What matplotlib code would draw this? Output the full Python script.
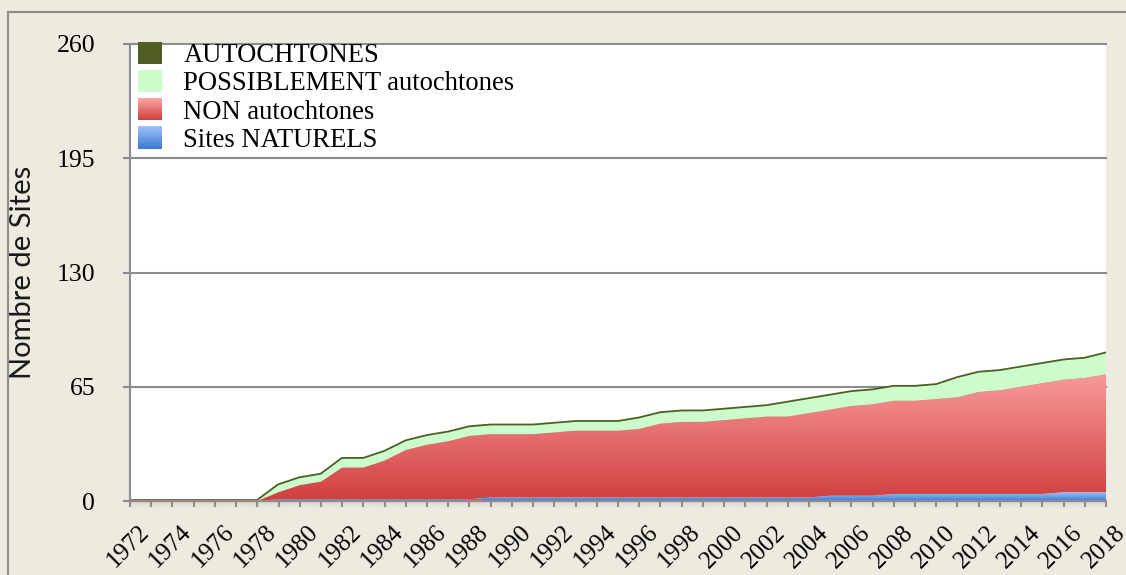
import numpy as np
import matplotlib
matplotlib.use("Agg")
import matplotlib.pyplot as plt
from matplotlib.colors import LinearSegmentedColormap, to_rgb
from matplotlib.patches import Rectangle
from matplotlib.legend_handler import HandlerBase
from matplotlib.transforms import ScaledTranslation

# ---- data -------------------------------------------------------------
years = list(range(1972, 2019))

sites_naturels = [0, 0, 0, 0, 0, 0, 0,
                  1, 1, 1, 1, 1, 1, 1, 1, 1, 1,
                  2, 2, 2, 2, 2, 2, 2, 2, 2, 2, 2, 2, 2, 2, 2, 2,
                  3, 3, 3,
                  4, 4, 4, 4, 4, 4, 4, 4,
                  5, 5, 5]

non_autochtones = [0, 0, 0, 0, 0, 0, 0,
                   4, 8, 10, 18, 18, 22, 28, 31, 33, 36,
                   36, 36, 36, 37, 38, 38, 38, 39, 42, 43, 43, 44, 45, 46, 46, 48,
                   49, 51, 52,
                   53, 53, 54, 55, 58, 59, 61, 63,
                   64, 65, 67]

possiblement = [0, 0, 0, 0, 0, 0, 0,
                4, 4, 4, 5, 5, 5, 5, 5, 5, 5,
                5, 5, 5, 5, 5, 5, 5, 6, 6, 6, 6, 6, 6, 6, 8, 8,
                8, 8, 8,
                8, 8, 8, 11, 11, 11, 11, 11,
                11, 11, 12]

autochtones = [0] * len(years)

series_labels = ["AUTOCHTONES", "POSSIBLEMENT autochtones",
                 "NON autochtones", "Sites NATURELS"]
y_ticks = [0, 65, 130, 195, 260]

# ---- style ------------------------------------------------------------
BG = "#edeae0"
GRID = "#8c8c8c"
OLIVE = "#4e5e25"
GREEN = "#ccfccc"
RED_LO, RED_HI = "#d03f3f", "#f89a9a"
BLUE_LO, BLUE_HI = "#3f7bd6", "#9cc1f7"

plt.rcParams["font.family"] = ["Liberation Serif", "DejaVu Serif"]

W, H = 1126, 575
fig = plt.figure(figsize=(W / 100, H / 100), dpi=100, facecolor=BG)
ax = fig.add_axes([130 / W, 74 / H, 976 / W, 457 / H])
ax.set_facecolor("white")

x = np.array(years, dtype=float)
b0 = np.array(sites_naturels, dtype=float)
b1 = b0 + np.array(non_autochtones)
b2 = b1 + np.array(possiblement)
b3 = b2 + np.array(autochtones)


def gradient_area(lo, hi, c_lo, c_hi, z):
    """Fill between lo and hi with a vertical colour gradient."""
    poly = ax.fill_between(x, lo, hi, facecolor="none", edgecolor="none", zorder=z)
    top = float(np.max(hi)) if np.max(hi) > 0 else 1.0
    cmap = LinearSegmentedColormap.from_list("grad", [c_lo, c_hi])
    grad = np.linspace(0, 1, 256).reshape(-1, 1)
    im = ax.imshow(grad, cmap=cmap, aspect="auto", origin="lower",
                   extent=[x[0], x[-1], 0, top], zorder=z,
                   interpolation="bilinear")
    im.set_clip_path(poly.get_paths()[0], ax.transData)
    return im


# outlines first, so the fills cover their inner half
ax.plot(x, b3, color=OLIVE, lw=2.6, zorder=1.0, solid_joinstyle="round")
ax.plot(x, b1, color="#c9504a", lw=2.0, zorder=1.1)

gradient_area(np.zeros_like(b0), b0, BLUE_LO, BLUE_HI, 2.0)
gradient_area(b0, b1, RED_LO, RED_HI, 2.1)
ax.fill_between(x, b1, b2, facecolor=GREEN, edgecolor="none", zorder=2.2)
ax.fill_between(x, b2, b3, facecolor=OLIVE, edgecolor="none", zorder=2.3)

# soft shadow just under the baseline
shade = np.zeros((32, 1, 4))
shade[..., :3] = 0.35
shade[:, 0, 3] = np.linspace(0.0, 0.28, 32) ** 1.5
ax.imshow(shade, aspect="auto", origin="lower", extent=[x[0], x[-1], -5.0, 0],
          zorder=0.3, clip_on=False, interpolation="bilinear")

ax.set_xlim(1972, 2018)
ax.set_ylim(0, 260)

# ---- axes, ticks, grid ------------------------------------------------
for side in ("top", "right"):
    ax.spines[side].set_visible(False)
for side in ("left", "bottom"):
    ax.spines[side].set_color(GRID)
    ax.spines[side].set_linewidth(1.5)
    ax.spines[side].set_zorder(3)

ax.set_yticks(y_ticks)
ax.set_yticklabels([str(v) for v in y_ticks])
ax.yaxis.grid(True, color=GRID, lw=1.5)
for gl in ax.get_ygridlines():
    gl.set_clip_on(False)
ax.set_axisbelow(True)
ax.tick_params(axis="y", direction="out", length=5, width=1.5, color=GRID,
               pad=20, labelsize=18.5)

ax.set_xticks(list(range(1972, 2019, 2)))
ax.set_xticklabels([str(v) for v in range(1972, 2019, 2)])
ax.set_xticks(list(range(1973, 2019, 2)), minor=True)
ax.tick_params(axis="x", which="both", direction="out", length=4.5, width=1.5,
               color=GRID)
ax.tick_params(axis="x", which="major", labelsize=18, pad=10)
shift = ScaledTranslation(-2 / 100, 0, fig.dpi_scale_trans)
for lab in ax.get_xticklabels():
    lab.set_rotation(45)
    lab.set_ha("center")
    lab.set_va("top")
    lab.set_transform(lab.get_transform() + shift)

ax.set_ylabel("Nombre de Sites", fontfamily=["Lato", "DejaVu Sans"],
              fontsize=21, color="#1a1a1a", va="center")
ax.yaxis.set_label_coords((23 - 130) / 976, 0.5)


# ---- legend -----------------------------------------------------------
class GradientHandler(HandlerBase):
    def __init__(self, c_lo, c_hi, steps=24):
        super().__init__()
        self.c_lo = np.array(to_rgb(c_lo))
        self.c_hi = np.array(to_rgb(c_hi))
        self.steps = steps

    def create_artists(self, legend, orig_handle, xdescent, ydescent,
                       width, height, fontsize, trans):
        arts = []
        dh = height / self.steps
        for i in range(self.steps):
            t = (i + 0.5) / self.steps
            col = self.c_lo * (1 - t) + self.c_hi * t
            r = Rectangle((-xdescent, -ydescent + i * dh), width, dh * 1.05,
                          facecolor=col, edgecolor="none", transform=trans)
            arts.append(r)
        return arts


h_auto = Rectangle((0, 0), 1, 1, facecolor=OLIVE, edgecolor="none")
h_poss = Rectangle((0, 0), 1, 1, facecolor=GREEN, edgecolor="none")
h_non = Rectangle((0, 0), 1, 1, facecolor=RED_LO)
h_nat = Rectangle((0, 0), 1, 1, facecolor=BLUE_LO)

leg = ax.legend([h_auto, h_poss, h_non, h_nat], series_labels,
                handler_map={h_non: GradientHandler("#cf3a3a", "#f9a6a6"),
                             h_nat: GradientHandler("#3a77d2", "#9fc3f8")},
                loc="upper left", bbox_to_anchor=(8 / 976, 1 + 2 / 457),
                frameon=False, fontsize=19.2, handlelength=0.9,
                handleheight=0.9, handletextpad=0.8, labelspacing=0.07,
                borderpad=0, borderaxespad=0)
leg.set_zorder(5)

# outer frame of the chart
fig.patches.append(Rectangle((8 / W, -0.1), 1.2, (H - 12) / H + 0.1,
                             transform=fig.transFigure, facecolor="none",
                             edgecolor=GRID, lw=1.5, zorder=0))

fig.savefig("out.png", dpi=100, facecolor=BG)
